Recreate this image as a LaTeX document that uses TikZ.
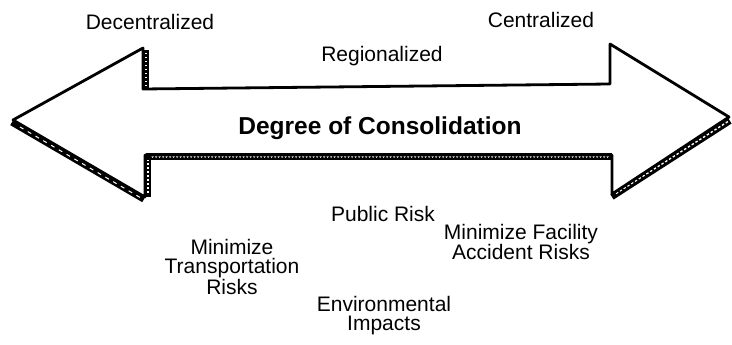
\documentclass[tikz,border=0pt]{standalone}
\usepackage{fontspec}
\setmainfont{Liberation Sans}
\usetikzlibrary{decorations.pathmorphing}
\tikzset{
  lbl/.style={font=\fontsize{21}{19}\selectfont, align=center, inner sep=0pt},
  band/.style={line width=5},
}
\begin{document}
\begin{tikzpicture}[x=1pt, y=-1pt]
\useasboundingbox (0,0) rectangle (732,345);
% shaded edges
\draw[band] (146,50) -- (146,90);
\draw[white, line width=1.2, dash pattern=on 1.5 off 2.5] (146,53) -- (146,87);
\draw[band] (11.5,123) -- (143.5,200);
\draw[white, line width=1, dash pattern=on 4 off 5] (20,127) -- (141,198);
\draw[band] (148,157) -- (148,197);
\draw[white, line width=1.2, dash pattern=on 1.5 off 2.5] (148,159) -- (148,194);
\draw[line width=6] (146,156.5) -- (612,156.5);
\draw[white, line width=0.8, decorate, decoration={zigzag, segment length=3.5, amplitude=1.3}] (150,156) -- (609,156);
\draw[line width=6] (612,197) -- (730,121);
\draw[white, line width=1.4, dash pattern=on 2.5 off 2] (616,193.5) -- (728,121.5);
% arrow outline
\draw[line width=2.8, line join=round] (13,120) -- (143,48) -- (143,89) -- (610,84) -- (610,44)
  -- (729,117) -- (612,194) -- (612,155) -- (145,155) -- (145,197) -- cycle;
% labels
\node[lbl] (decen) at (150,22) {Decentralized};
\node[lbl] (cen) at (541,20) {Centralized};
\node[lbl] (reg) at (382,56) {Regionalized};
\node[lbl, font=\fontsize{24.5}{19}\selectfont\bfseries] (degree) at (380,128) {Degree of Consolidation};
\node[lbl] (risk) at (383,214) {Public Risk};
\node[lbl] (trans) at (232,267) {Minimize\\Transportation\\Risks};
\node[lbl] (facil) at (521,242) {Minimize Facility\\Accident Risks};
\node[lbl] (env) at (384,316) {Environmental\\Impacts};
\end{tikzpicture}
\end{document}
